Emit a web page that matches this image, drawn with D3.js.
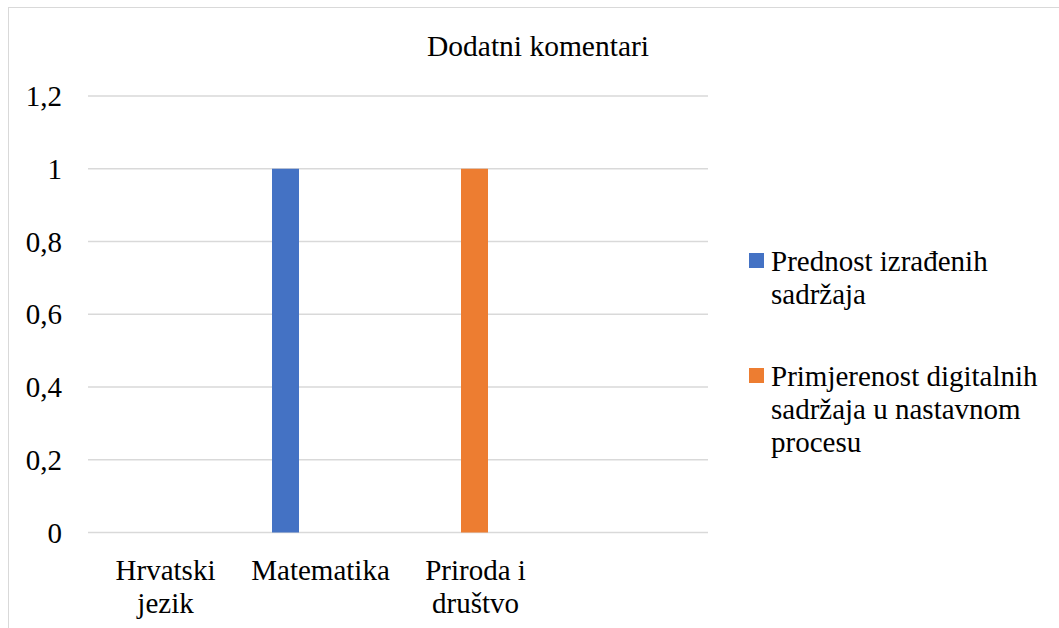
<!DOCTYPE html>
<html>
<head>
<meta charset="utf-8">
<script src="https://cdn.jsdelivr.net/npm/d3@7"></script>
</head>
<body style="margin:0">
<div id="viz"></div>
<script>
// chart data
const categories = ["Hrvatski jezik", "Matematika", "Priroda i društvo", ""];
const seriesNames = ["Prednost izrađenih sadržaja", "Primjerenost digitalnih sadržaja u nastavnom procesu"];
const prednostValues = [0, 1, 0, 0];
const primjerenostValues = [0, 0, 1, 0];
const yTicks = [0, 0.2, 0.4, 0.6, 0.8, 1, 1.2];
const colors = ["#4472C4", "#ED7D31"];

const legendLines = [["Prednost izrađenih", "sadržaja"], ["Primjerenost digitalnih", "sadržaja u nastavnom", "procesu"]];
const categoryLines = [["Hrvatski", "jezik"], ["Matematika"], ["Priroda i", "društvo"], [""]];

const width = 1059, height = 628;
const font = "'Liberation Serif'";

const svg = d3.select("#viz").append("svg")
    .attr("width", width)
    .attr("height", height);

// outer chart border (cropped on right/bottom)
svg.append("rect")
    .attr("x", 8.5).attr("y", 7.5)
    .attr("width", 1200).attr("height", 800)
    .style("fill", "white")
    .style("stroke", "#d9d9d9");

const plot = { left: 88, right: 708, top: 96, bottom: 532.5 };

const x0 = d3.scaleBand()
    .domain(d3.range(categories.length))
    .range([plot.left, plot.right]);

const x1 = d3.scaleBand()
    .domain(seriesNames)
    .range([29, 90])
    .paddingInner(7 / 34);

const y = d3.scaleLinear()
    .domain([0, 1.2])
    .range([plot.bottom, plot.top]);

// gridlines
svg.append("g")
    .selectAll("line")
    .data(yTicks)
    .join("line")
    .attr("x1", plot.left).attr("x2", plot.right)
    .attr("y1", d => y(d)).attr("y2", d => y(d))
    .style("stroke", "#d9d9d9")
    .style("stroke-width", 1.3);

// y labels
svg.append("g")
    .selectAll("text")
    .data(yTicks)
    .join("text")
    .attr("x", 62)
    .attr("y", d => y(d) + 10)
    .attr("text-anchor", "end")
    .style("font-family", font)
    .style("font-size", "29px")
    .text(d => String(d).replace(".", ","));

// bars
const series = [prednostValues, primjerenostValues];
series.forEach(function (vals, s) {
    svg.append("g")
        .selectAll("rect")
        .data(vals)
        .join("rect")
        .attr("x", (d, i) => x0(i) + x1(seriesNames[s]))
        .attr("width", x1.bandwidth())
        .attr("y", d => y(d))
        .attr("height", d => y(0) - y(d))
        .style("fill", colors[s]);
});

// category labels
const cat = svg.append("g")
    .selectAll("text")
    .data(categoryLines)
    .join("text")
    .attr("text-anchor", "middle")
    .style("font-family", font)
    .style("font-size", "29px")
    .attr("transform", (d, i) => "translate(" + (x0(i) + x0.bandwidth() / 2) + ",580)");
cat.selectAll("tspan")
    .data(d => d)
    .join("tspan")
    .attr("x", 0)
    .attr("y", (d, i) => i * 33)
    .text(d => d);

// title
svg.append("text")
    .attr("x", 538)
    .attr("y", 56)
    .attr("text-anchor", "middle")
    .style("font-family", font)
    .style("font-size", "29.5px")
    .text("Dodatni komentari");

// legend
const legendTop = [271, 386];
const legend = svg.append("g")
    .selectAll("g")
    .data(seriesNames)
    .join("g")
    .attr("transform", (d, i) => "translate(749," + legendTop[i] + ")");
legend.append("rect")
    .attr("x", 0).attr("y", -18)
    .attr("width", 15).attr("height", 15)
    .style("fill", (d, i) => colors[i]);
legend.append("text")
    .style("font-family", font)
    .style("font-size", "29px")
    .selectAll("tspan")
    .data((d, i) => legendLines[i])
    .join("tspan")
    .attr("x", 22)
    .attr("y", (d, i) => i * 33)
    .text(d => d);
</script>
</body>
</html>
